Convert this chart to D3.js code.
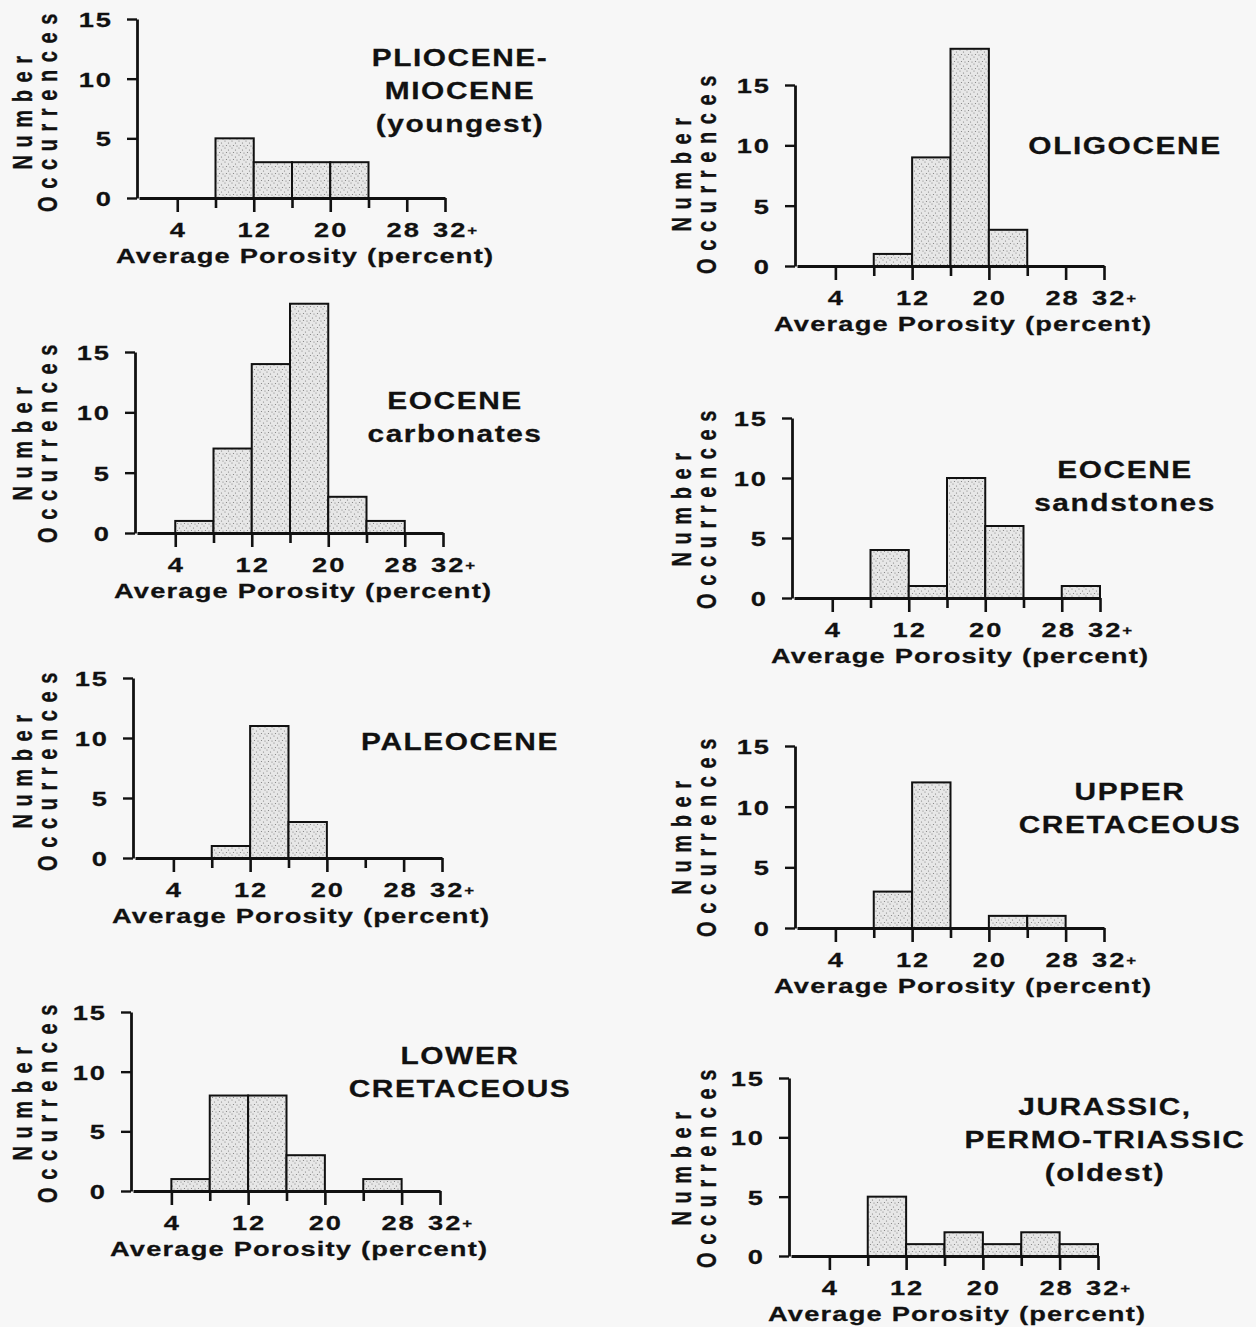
<!DOCTYPE html>
<html lang="en">
<head>
<meta charset="UTF-8">
<title>Average Porosity Histograms</title>
<script src="https://d3js.org/d3.v7.min.js"></script>
<style>
  body { margin: 0; background: #f7f7f7; }
  svg { display: block; }
  text { font-family: "Liberation Sans", Arial, sans-serif; font-weight: bold; fill: #111;
         stroke: #111; stroke-width: 0.25px; }
</style>
</head>
<body>
<svg id="chart" width="1256" height="1327"></svg>
<script>
// bins of 4 % porosity, starting values
const binStarts = [0, 4, 8, 12, 16, 20, 24, 28]
const binWidth = 4

// counts per bin
const pliocene   = [0, 0, 5, 3, 3, 3, 0, 0]
const oligocene  = [0, 0, 1, 9, 18, 3, 0, 0]
const eoceneCarb = [0, 1, 7, 14, 19, 3, 1, 0]
const eoceneSand = [0, 0, 4, 1, 10, 6, 0, 1]
const paleocene  = [0, 0, 1, 11, 3, 0, 0, 0]
const upperCret  = [0, 0, 3, 12, 0, 1, 1, 0]
const lowerCret  = [0, 1, 8, 8, 3, 0, 1, 0]
const jurassic   = [0, 0, 5, 1, 2, 1, 2, 1]

const titles = [
  ["PLIOCENE-", "MIOCENE", "(youngest)"],
  ["OLIGOCENE"],
  ["EOCENE", "carbonates"],
  ["EOCENE", "sandstones"],
  ["PALEOCENE"],
  ["UPPER", "CRETACEOUS"],
  ["LOWER", "CRETACEOUS"],
  ["JURASSIC,", "PERMO-TRIASSIC", "(oldest)"]
]
const series = [pliocene, oligocene, eoceneCarb, eoceneSand, paleocene, upperCret, lowerCret, jurassic]

const xTicks = [4, 8, 12, 16, 20, 24, 28, 32]
const xLabelTicks = [4, 12, 20, 28, 32]
const xLabels = ["4", "12", "20", "28", "32"]
const yTicks = [0, 5, 10, 15]
const xTitle = "Average Porosity (percent)"
const yTitle = ["Number", "Occurrences"]

// where each panel sits on the page (scanned figure, panels differ a little)
const frames = [
  { x0: 139, x32: 445, y0: 198, y15: 19, tx: 460, ty: 66, yc: 109, lx: 32 },
  { x0: 797, x32: 1104, y0: 266, y15: 85, tx: 1125, ty: 154, yc: 171, lx: 691 },
  { x0: 137, x32: 443, y0: 533, y15: 352, tx: 455, ty: 409, yc: 440, lx: 32 },
  { x0: 794, x32: 1100, y0: 598, y15: 418, tx: 1125, ty: 478, yc: 506, lx: 691 },
  { x0: 135, x32: 442, y0: 858, y15: 678, tx: 460, ty: 750, yc: 768, lx: 32 },
  { x0: 797, x32: 1104, y0: 928, y15: 746, tx: 1130, ty: 800, yc: 834, lx: 691 },
  { x0: 133, x32: 440, y0: 1191, y15: 1012, tx: 460, ty: 1064, yc: 1100, lx: 32 },
  { x0: 791, x32: 1098, y0: 1256, y15: 1078, tx: 1105, ty: 1115, yc: 1165, lx: 691 }
]

// the printed lettering is wide, so stretch text sideways
const SX = 1.3

const svg = d3.select("#chart")

function label(sel, x, y, str, size, anchor, ls) {
  return sel.append("text")
    .attr("transform", "translate(" + x + "," + y + ") scale(" + SX + ",1)")
    .attr("text-anchor", anchor)
    .style("font-size", size + "px")
    .style("letter-spacing", ls + "px")
    .text(str)
}

// stippled grey fill like the printed bars
const defs = svg.append("defs")
const pat = defs.append("pattern")
  .attr("id", "stipple")
  .attr("patternUnits", "userSpaceOnUse")
  .attr("width", 7).attr("height", 7)
pat.append("rect").attr("width", 7).attr("height", 7).attr("fill", "#e7e7e7")
;[[1, 1], [4.5, 3], [2.5, 5.5], [6, 6]].forEach(p => {
  pat.append("circle").attr("cx", p[0]).attr("cy", p[1]).attr("r", 0.6).attr("fill", "#7a7a7a")
})

frames.forEach((f, i) => {
  const data = series[i]
  const x = d3.scaleLinear().domain([0, 32]).range([f.x0, f.x32])
  const y = d3.scaleLinear().domain([0, 15]).range([f.y0, f.y15])
  const g = svg.append("g")

  const bins = binStarts.map((b, j) => ({ b: b, v: data[j] })).filter(d => d.v > 0)

  g.selectAll("rect.bar")
    .data(bins)
    .join("rect")
    .attr("class", "bar")
    .attr("x", d => x(d.b))
    .attr("width", d => x(d.b + binWidth) - x(d.b))
    .attr("y", d => y(d.v))
    .attr("height", d => y(0) - y(d.v))
    .attr("fill", "url(#stipple)")
    .attr("stroke", "#111")
    .attr("stroke-width", 2)

  // x axis
  const xa = g.append("g")
    .attr("transform", "translate(0," + y(0) + ")")
    .call(d3.axisBottom(x).tickValues(xTicks).tickSize(14).tickSizeOuter(0).tickFormat(""))
  xa.attr("font-size", null).attr("font-family", null)
  xa.select(".domain").attr("stroke", "#111").attr("stroke-width", 2.8)
  xa.selectAll(".tick line")
    .attr("stroke", "#111")
    .attr("stroke-width", 2.6)
    .attr("y2", d => xLabelTicks.includes(d) ? 14 : 10)

  xLabelTicks.forEach((v, k) => {
    if (v === 32) {
      const t = label(g, x(v) - 12, y(0) + 39, xLabels[k], 21, "start", 1.5)
      t.append("tspan").attr("dy", -2).style("font-size", "13px").text("+")
    } else {
      label(g, x(v) + (v === 28 ? -3 : 1), y(0) + 39, xLabels[k], 21, "middle", 1.5)
    }
  })

  label(g, x(0) - 23, y(0) + 65, xTitle, 21, "start", 0.9)

  // y axis
  const ya = g.append("g")
    .attr("transform", "translate(" + (x(0) - 2) + ",0)")
    .call(d3.axisLeft(y).tickValues(yTicks).tickSize(10).tickSizeOuter(0).tickPadding(14))
  ya.attr("font-size", null).attr("font-family", null)
  ya.select(".domain").attr("stroke", "#111").attr("stroke-width", 2.8)
  ya.selectAll(".tick line").attr("stroke", "#111").attr("stroke-width", 2.4)
  ya.selectAll(".tick text")
    .attr("fill", "#111")
    .attr("x", null)
    .attr("dy", "0.36em")
    .attr("transform", "translate(-24,0) scale(" + SX + ",1)")
    .style("font-size", "21px")
    .style("letter-spacing", "1.5px")

  yTitle.forEach((t, k) => {
    g.append("text")
      .attr("transform", "translate(" + (f.lx + k * 25) + "," + f.yc + ") scale(1.4,1) rotate(-90)")
      .attr("text-anchor", "middle")
      .style("font-size", "20px")
      .style("letter-spacing", "7.6px")
      .text(t)
  })

  // panel title
  titles[i].forEach((t, k) => {
    label(g, f.tx, f.ty + k * 33, t, 23, "middle", 1.2)
  })
})
</script>
</body>
</html>
